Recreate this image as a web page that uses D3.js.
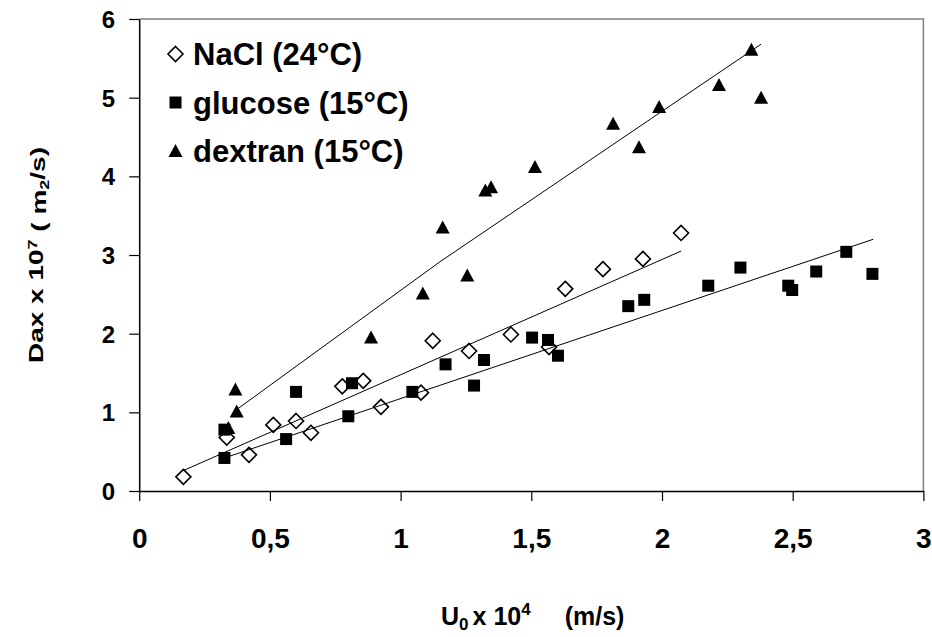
<!DOCTYPE html>
<html><head><meta charset="utf-8">
<script src="https://cdn.jsdelivr.net/npm/d3@7"></script>
<style>
body{margin:0;background:#fff}
svg{display:block}
text{font-family:"Liberation Sans",Arial,sans-serif;font-weight:bold;fill:#000}
</style>
</head><body>
<svg id="c" width="932" height="637"></svg>
<script>
// ---- data ----
const xTicks = [0, 0.5, 1, 1.5, 2, 2.5, 3];
const xTickLabels = ["0", "0,5", "1", "1,5", "2", "2,5", "3"];
const yTicks = [0, 1, 2, 3, 4, 5, 6];
const yTickLabels = ["0", "1", "2", "3", "4", "5", "6"];
const seriesNames = ["NaCl (24°C)", "glucose (15°C)", "dextran (15°C)"];

const naclX = [0.169, 0.335, 0.42, 0.513, 0.60, 0.657, 0.777, 0.857, 0.925, 1.078, 1.123, 1.262, 1.422, 1.568, 1.63, 1.774, 1.927, 2.073];
const naclY = [0.18, 0.68, 0.46, 0.84, 0.89, 0.74, 1.33, 1.40, 1.07, 1.25, 1.91, 1.78, 1.99, 1.83, 2.57, 2.82, 2.95, 3.28];

const glucoseX = [0.326, 0.326, 0.562, 0.60, 0.80, 0.814, 1.045, 1.172, 1.281, 1.319, 1.503, 1.564, 1.602, 1.871, 1.932, 2.177, 2.30, 2.483, 2.498, 2.59, 2.705, 2.805];
const glucoseY = [0.42, 0.78, 0.66, 1.26, 0.95, 1.37, 1.26, 1.61, 1.34, 1.665, 1.95, 1.92, 1.72, 2.35, 2.43, 2.61, 2.84, 2.61, 2.555, 2.79, 3.04, 2.76];

const dextranX = [0.341, 0.368, 0.373, 0.887, 1.085, 1.161, 1.255, 1.324, 1.346, 1.514, 1.813, 1.912, 1.989, 2.218, 2.342, 2.379];
const dextranY = [0.80, 1.29, 1.01, 1.95, 2.51, 3.35, 2.74, 3.82, 3.86, 4.12, 4.67, 4.37, 4.88, 5.16, 5.61, 5.00];

// trend lines
const naclFitX = [0.169, 2.073];
const naclFitY = [0.26, 3.05];
const glucoseFitX = [0.326, 2.808];
const glucoseFitY = [0.42, 3.20];
const dextranFitX = [0.379, 1.151, 2.379];
const dextranFitY = [1.05, 2.915, 5.68];

// ---- chart ----
const svg = d3.select("#c");
const x = d3.scaleLinear().domain([0, 3]).range([139.2, 923.4]);
const y = d3.scaleLinear().domain([0, 6]).range([491, 19]);

// plot frame (grey top/right)
svg.append("path")
  .attr("d", `M${x(0)},${y(6)}H${x(3)}V${y(0)}`)
  .attr("fill", "none").attr("stroke", "#808080").attr("stroke-width", 1.5);

// axes
const yAxis = svg.append("g").attr("transform", `translate(${x(0)},0)`)
  .call(d3.axisLeft(y).tickValues(yTicks).tickSize(10).tickSizeOuter(0).tickPadding(14)
    .tickFormat((d, i) => yTickLabels[i]));
yAxis.selectAll("text").style("font-size", "24px").attr("dy", "0.36em");

const xAxis = svg.append("g").attr("transform", `translate(0,${y(0)})`)
  .call(d3.axisBottom(x).tickValues(xTicks).tickSize(10).tickSizeOuter(0).tickPadding(27)
    .tickFormat((d, i) => xTickLabels[i]));
xAxis.selectAll("text").style("font-size", "28px");
svg.selectAll(".domain").attr("stroke", "#000").attr("stroke-width", 1.5);
svg.selectAll(".tick line").attr("stroke", "#000").attr("stroke-width", 1.2);

// markers
const diamondPath = "M0,-7.5L7.5,0L0,7.5L-7.5,0Z";
const squarePath = "M-6,-6H6V6H-6Z";
const trianglePath = "M0,-7L7,6H-7Z";

function drawSeries(xs, ys, path, fill, sw) {
  svg.append("g").selectAll("path").data(xs).join("path")
    .attr("transform", (d, i) => `translate(${x(d)},${y(ys[i])})`)
    .attr("d", path).attr("fill", fill).attr("stroke", "#000").attr("stroke-width", sw)
    .attr("stroke-linejoin", "miter");
}
drawSeries(naclX, naclY, diamondPath, "#fff", 1.6);
drawSeries(glucoseX, glucoseY, squarePath, "#000", 0);
drawSeries(dextranX, dextranY, trianglePath, "#000", 0);

// trend lines
const line = d3.line().x(d => x(d[0])).y(d => y(d[1]));
[[naclFitX, naclFitY], [glucoseFitX, glucoseFitY], [dextranFitX, dextranFitY]].forEach(([fx, fy]) => {
  svg.append("path").attr("d", line(fx.map((v, i) => [v, fy[i]])))
    .attr("fill", "none").attr("stroke", "#000").attr("stroke-width", 1);
});

// legend
const legendPaths = [diamondPath, squarePath, trianglePath];
const legendFills = ["#fff", "#000", "#000"];
const legendStroke = [1.6, 0, 0];
const leg = svg.append("g");
seriesNames.forEach((name, i) => {
  const cy = 54 + i * 48.5;
  leg.append("path").attr("transform", `translate(175.5,${cy})`)
    .attr("d", legendPaths[i]).attr("fill", legendFills[i]).attr("stroke", "#000").attr("stroke-width", legendStroke[i]);
  leg.append("text").attr("x", 193).attr("y", cy + 11).style("font-size", "31px").text(name);
});

// y axis title
const yt = svg.append("text")
  .attr("transform", "translate(43,255) rotate(-90) scale(1,0.72)")
  .attr("text-anchor", "middle").style("font-size", "28px");
yt.append("tspan").text("Dax x 10");
yt.append("tspan").attr("dy", "-0.45em").style("font-size", "18px").text("7");
yt.append("tspan").attr("dy", "0.45em").text(" ( m");
yt.append("tspan").attr("dy", "0.2em").style("font-size", "18px").text("2");
yt.append("tspan").attr("dy", "-0.2em").text("/s)");

// x axis title
const xt = svg.append("text").attr("x", 441).attr("y", 625).style("font-size", "25px");
xt.append("tspan").text("U");
xt.append("tspan").attr("dy", "5").style("font-size", "17px").text("0");
xt.append("tspan").attr("dy", "-5").attr("dx", "4").text("x 10");
xt.append("tspan").attr("dy", "-10").style("font-size", "17px").text("4");
xt.append("tspan").attr("dy", "10").attr("dx", "34").text("(m/s)");
</script>
</body></html>
